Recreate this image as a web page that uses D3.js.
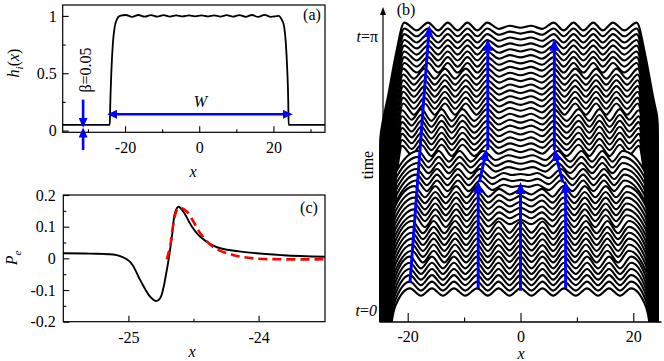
<!DOCTYPE html>
<html lang="en">
<head>
<meta charset="utf-8">
<title>Plateau ripples</title>
<script src="https://cdn.jsdelivr.net/npm/d3@7"></script>
<style>
  body { margin: 0; background: #fff; }
  svg text { font-family: "Liberation Serif", "Times New Roman", serif; font-size: 16px; fill: #000; }
</style>
</head>
<body>
<script>
// ---------------- data ----------------
// (a) initial profile h_i(x)
var hiX = [-36.8, -24.1, -24.0, -23.7, -23.3, -22.8, -22.2, -21.4,
           -19.8, -18.1, -16.4, -14.7, -13.0, -11.3, -9.6, -7.9, -6.2, -4.5, -2.8, -1.1,
           0.6, 2.3, 4.0, 5.7, 7.4, 9.1, 10.8, 12.5, 14.2, 15.9, 17.6, 19.3,
           21.4, 22.2, 22.8, 23.3, 23.7, 24.0, 24.1, 33.9];
var hiY = [0.05, 0.05, 0.2, 0.5, 0.75, 0.9, 0.97, 1.0,
           1.008, 0.992, 1.008, 0.993, 1.007, 0.993, 1.006, 0.994, 1.005, 0.995, 1.004, 0.996,
           1.004, 0.995, 1.005, 0.994, 1.006, 0.993, 1.007, 0.992, 1.008, 0.991, 1.009, 0.992,
           1.0, 0.97, 0.92, 0.78, 0.55, 0.25, 0.05, 0.05];

// (c) P_e near the left edge
var peX = [-25.5, -25.3, -25.09, -24.987, -24.91, -24.833, -24.787, -24.756, -24.705, -24.666,
           -24.64, -24.615, -24.577, -24.512, -24.448, -24.32, -24.064, -23.81, -23.49];
var peY = [0.016, 0.015, 0.010, -0.011, -0.068, -0.121, -0.135, -0.126, -0.037, 0.068,
           0.147, 0.163, 0.147, 0.100, 0.068, 0.035, 0.018, 0.010, 0.005];
var fitX = [-24.705, -24.68, -24.654, -24.628, -24.602, -24.55, -24.5, -24.448, -24.346, -24.19,
            -24.04, -23.81, -23.49];
var fitY = [-0.003, 0.037, 0.110, 0.152, 0.160, 0.147, 0.116, 0.079, 0.035, 0.010,
            0.0, -0.003, -0.003];

// (b) waterfall: 46 time slices from t=0 to t=pi
var sliceCount = 46;
var rippleAmp = [0.013, 0.016, 0.018, 0.019, 0.020, 0.021, 0.021, 0.022, 0.022, 0.022,
                 0.022, 0.022, 0.021, 0.021, 0.021, 0.021, 0.020, 0.020,
                 0.019, 0.019, 0.018, 0.018, 0.019, 0.019,
                 0.020, 0.020, 0.021, 0.021, 0.021, 0.021, 0.021, 0.020, 0.020, 0.020,
                 0.019, 0.019, 0.018, 0.018, 0.017, 0.017, 0.016, 0.016, 0.015, 0.015, 0.014, 0.014];
// first slice of each stage, and which edge shape the stage uses
var stageStart = [0, 6, 12, 18, 21, 24, 31, 38];
var stageWall = [0, 0, 0, 1, 1, 2, 2, 2];
// left edge (x, h); the right edge is its mirror
var wallEarly = [[-26.5, 0], [-24.5, 0], [-24.3, 0.35], [-23.8, 0.7], [-23.0, 0.87], [-22.2, 0.95]];
var wallMid = [[-26.5, 0], [-24.9, 0], [-24.7, 0.4], [-24.0, 0.68], [-23.0, 0.86], [-21.9, 0.95]];
var wallLate = [[-26.5, 0], [-26.0, 0.3], [-25.6, 0.5], [-24.6, 0.64], [-23.4, 0.76], [-22.1, 0.9]];
// left half of the ripple: crests (+) and troughs (-), mirrored about x=0
var ripple0 = [[-19.6, 1], [-17.65, -1], [-15.7, 1], [-13.75, -1], [-11.8, 1], [-9.8, -1], [-7.7, 1], [-5.8, -1], [-3.9, 1], [-1.95, -1], [0, 1]];
var ripple1 = [[-19.2, 1], [-17.3, -1], [-15.4, 1], [-13.5, -1], [-11.6, 1], [-9.65, -1], [-7.7, 1], [-5.8, -1], [-3.9, 0.9], [-1.95, -0.9], [0, 0.9]];
var ripple2 = [[-18.8, 1], [-16.95, -1], [-15.1, 1], [-13.25, -1], [-11.4, 1], [-9.55, -1], [-7.6, 1], [-5.7, -0.9], [-3.8, 0.5], [-1.9, -0.5], [0, 0.3]];
var ripple3 = [[-18.4, 1], [-16.6, -1], [-14.8, 1], [-12.95, -1], [-11.1, 1], [-9.2, -1], [-7.2, 1], [-5.0, -0.8], [-3.0, 0.2], [-1.5, -0.2], [0, 0]];
var ripple4 = [[-18.1, 1], [-16.3, -1], [-14.5, 1], [-12.7, -1], [-10.8, 1], [-8.8, -1], [-6.6, 1], [-4.4, -0.7], [-2.2, 0.2], [0, -0.3]];
var ripple5 = [[-21.0, 0.8], [-19.3, -0.8], [-17.6, 1], [-15.8, -1], [-14.0, 1], [-12.2, -1], [-10.3, 1], [-8.2, -1], [-5.9, 1], [-3.9, -0.6], [-1.9, 0.2], [0, -0.3]];
var ripple6 = [[-20.8, 1], [-18.9, -1], [-17.0, 1], [-15.2, -1], [-13.4, 1], [-11.6, -1], [-9.7, 1], [-7.8, -1], [-5.9, 1], [-3.8, -0.6], [-1.9, 0.2], [0, -0.3]];
var ripple7 = [[-20.6, 1], [-18.4, -1], [-16.4, 1], [-14.6, -1], [-12.9, 1], [-11.15, -1], [-9.4, 1], [-7.65, -1], [-5.9, 1], [-3.8, -0.6], [-1.9, 0.2], [0, -0.3]];
// blue arrows in (b): start (x, t) -> end (x, t)
var arrX0 = [-19.6, -7.5, -7.3, -5.8, 0, 8.0, 7.5, 6.0];
var arrT0 = [0.104, 0.044, 1.30, 1.68, 0.015, 0.044, 1.30, 1.68];
var arrX1 = [-16.2, -7.5, -6.1, -5.8, 0, 8.0, 6.1, 6.0];
var arrT1 = [3.12, 1.28, 1.66, 2.96, 1.266, 1.28, 1.66, 2.96];

// ---------------- drawing ----------------
var w = 664, h = 361;
var svg = d3.select("body").append("svg").attr("width", w).attr("height", h)
  .attr("font-family", "Liberation Serif, serif");
var defs = svg.append("defs");

function marker(id, color, len, wid) {
  defs.append("marker").attr("id", id)
    .attr("viewBox", "0 0 " + len + " " + wid)
    .attr("refX", len - 3).attr("refY", wid / 2)
    .attr("markerWidth", len).attr("markerHeight", wid)
    .attr("markerUnits", "userSpaceOnUse")
    .attr("orient", "auto-start-reverse")
    .append("path").attr("d", "M0,0L" + len + "," + (wid / 2) + "L0," + wid + "Z").attr("fill", color);
}
marker("headB", "#0000ff", 12, 10);
marker("headA", "#0000ff", 10, 9);
marker("headK", "#000", 8, 6);

function styleAxis(g) {
  g.attr("font-family", null).attr("font-size", null);
  g.selectAll(".tick line").attr("stroke", "#000").attr("stroke-width", 1.1);
  g.select(".domain").remove();
}
var label = function(d) { return String(d); };

// ---- panel (a)
var ax = d3.scaleLinear().domain([-36.8, 33.9]).range([62.7, 325]);
var ay = d3.scaleLinear().domain([-0.015, 1.095]).range([132.3, 5]);

var pa = svg.append("g");
pa.append("g").attr("transform", "translate(0,132.3)")
  .call(d3.axisBottom(ax).tickValues([-20, 0, 20]).tickSizeInner(-6).tickSizeOuter(0).tickPadding(9).tickFormat(label))
  .call(styleAxis);
pa.append("g").attr("transform", "translate(0,132.3)")
  .call(d3.axisBottom(ax).tickValues([-30, -10, 10, 30]).tickSizeInner(-3).tickSizeOuter(0).tickFormat(""))
  .call(styleAxis);
pa.append("g").attr("transform", "translate(62.7,0)")
  .call(d3.axisLeft(ay).tickValues([0, 0.5, 1]).tickSizeInner(-6).tickSizeOuter(0).tickPadding(6).tickFormat(label))
  .call(styleAxis);
pa.append("g").attr("transform", "translate(62.7,0)")
  .call(d3.axisLeft(ay).tickValues([0.25, 0.75]).tickSizeInner(-3).tickSizeOuter(0).tickFormat(""))
  .call(styleAxis);

pa.append("path")
  .datum(d3.range(hiX.length))
  .attr("fill", "none").attr("stroke", "#000").attr("stroke-width", 1.8)
  .attr("d", d3.line().x(function(i) { return ax(hiX[i]); }).y(function(i) { return ay(hiY[i]); }).curve(d3.curveMonotoneX));

pa.append("rect").attr("x", 62.7).attr("y", 5).attr("width", 325 - 62.7).attr("height", 132.3 - 5)
  .attr("fill", "none").attr("stroke", "#000").attr("stroke-width", 1.2);

// W and beta markers
pa.append("line").attr("x1", ax(-24.0)).attr("x2", ax(24.4)).attr("y1", ay(0.142)).attr("y2", ay(0.142))
  .attr("stroke", "#0000ff").attr("stroke-width", 2.6)
  .attr("marker-start", "url(#headA)").attr("marker-end", "url(#headA)");
pa.append("line").attr("x1", ax(-31.3)).attr("x2", ax(-31.3)).attr("y1", ay(0.27)).attr("y2", ay(0.05))
  .attr("stroke", "#0000ff").attr("stroke-width", 2.6).attr("marker-end", "url(#headA)");
pa.append("line").attr("x1", ax(-31.3)).attr("x2", ax(-31.3)).attr("y1", ay(-0.17)).attr("y2", ay(0))
  .attr("stroke", "#0000ff").attr("stroke-width", 2.6).attr("marker-end", "url(#headA)");

pa.append("text").attr("x", 200.5).attr("y", 107).attr("text-anchor", "middle").attr("font-style", "italic").text("W");
pa.append("text").attr("transform", "translate(91,70) rotate(-90)").attr("text-anchor", "middle").text("β=0.05");
pa.append("text").attr("x", 312).attr("y", 20).attr("text-anchor", "middle").text("(a)");
pa.append("text").attr("x", 193).attr("y", 176.5).attr("text-anchor", "middle").attr("font-style", "italic").text("x");
var hl = pa.append("text").attr("transform", "translate(19,63) rotate(-90)").attr("text-anchor", "middle");
hl.append("tspan").attr("font-style", "italic").text("h");
hl.append("tspan").attr("font-style", "italic").attr("font-size", "11px").attr("dy", 4).text("i");
hl.append("tspan").attr("dy", -4).text("(");
hl.append("tspan").attr("font-style", "italic").text("x");
hl.append("tspan").text(")");

// ---- panel (c)
var cx = d3.scaleLinear().domain([-25.5, -23.49]).range([63.3, 325]);
var cy = d3.scaleLinear().domain([-0.2, 0.2]).range([321.7, 195]);
var pc = svg.append("g");
pc.append("g").attr("transform", "translate(0,321.7)")
  .call(d3.axisBottom(cx).tickValues([-25, -24]).tickSizeInner(-6).tickSizeOuter(0).tickPadding(9.5).tickFormat(label))
  .call(styleAxis);
pc.append("g").attr("transform", "translate(0,321.7)")
  .call(d3.axisBottom(cx).tickValues([-24.5]).tickSizeInner(-3).tickSizeOuter(0).tickFormat(""))
  .call(styleAxis);
pc.append("g").attr("transform", "translate(63.3,0)")
  .call(d3.axisLeft(cy).tickValues([-0.2, -0.1, 0, 0.1, 0.2]).tickSizeInner(-6).tickSizeOuter(0).tickPadding(7.5).tickFormat(label))
  .call(styleAxis);
pc.append("g").attr("transform", "translate(63.3,0)")
  .call(d3.axisLeft(cy).tickValues([-0.15, -0.05, 0.05, 0.15]).tickSizeInner(-3).tickSizeOuter(0).tickFormat(""))
  .call(styleAxis);

pc.append("path").datum(d3.range(peX.length))
  .attr("fill", "none").attr("stroke", "#000").attr("stroke-width", 1.9)
  .attr("d", d3.line().x(function(i) { return cx(peX[i]); }).y(function(i) { return cy(peY[i]); }).curve(d3.curveCatmullRom.alpha(0.5)));
pc.append("path").datum(d3.range(fitX.length))
  .attr("fill", "none").attr("stroke", "#ff0000").attr("stroke-width", 2.6).attr("stroke-dasharray", "9,5")
  .attr("d", d3.line().x(function(i) { return cx(fitX[i]); }).y(function(i) { return cy(fitY[i]); }).curve(d3.curveCatmullRom.alpha(0.5)));

pc.append("rect").attr("x", 63.3).attr("y", 195).attr("width", 325 - 63.3).attr("height", 321.7 - 195)
  .attr("fill", "none").attr("stroke", "#000").attr("stroke-width", 1.2);
pc.append("text").attr("x", 309).attr("y", 213).attr("text-anchor", "middle").text("(c)");
pc.append("text").attr("x", 192).attr("y", 357).attr("text-anchor", "middle").attr("font-style", "italic").text("x");
var pl = pc.append("text").attr("transform", "translate(17,258) rotate(-90)").attr("text-anchor", "middle");
pl.append("tspan").attr("font-style", "italic").text("P");
pl.append("tspan").attr("font-style", "italic").attr("font-size", "11px").attr("dy", 4).text("e");

// ---- panel (b)
var bx = d3.scaleLinear().domain([-25, 25]).range([379.5, 661.5]);
var tPos = d3.scaleLinear().domain([0, Math.PI]).range([292, 26.5]);   // level of h=1 for each time
var hOff = d3.scaleLinear().domain([0, 1]).range([280, 0]);
var pb = svg.append("g");
defs.append("clipPath").attr("id", "clipB").append("rect")
  .attr("x", 379.5).attr("y", 0).attr("width", 279).attr("height", 322);

var walls = [wallEarly, wallMid, wallLate];
var ripples = [ripple0, ripple1, ripple2, ripple3, ripple4, ripple5, ripple6, ripple7];
function stageOf(k) {
  var s = 0;
  stageStart.forEach(function(v, i) { if (k >= v) s = i; });
  return s;
}
// returns the pieces of a slice: left edge, ripple top, right edge
function sliceParts(k) {
  var s = stageOf(k), a = rippleAmp[k];
  var wl = walls[stageWall[s]];
  var left = wl.map(function(p) { return [p[0], p[1]]; });
  var right = wl.slice().reverse().map(function(p) { return [-p[0], p[1]]; });
  var half = ripples[s];
  var top = [left[left.length - 1]];
  half.forEach(function(p) { top.push([p[0], 1 + a * p[1]]); });
  half.slice(0, -1).reverse().forEach(function(p) { top.push([-p[0], 1 + a * p[1]]); });
  top.push(right[0]);
  return { left: left, top: top, right: right,
           all: left.concat(top.slice(1, -1)).concat(right) };
}

var gw = pb.append("g").attr("clip-path", "url(#clipB)");
var curve = d3.curveMonotoneX;
for (var k = sliceCount - 1; k >= 0; k--) {
  var t = k * Math.PI / (sliceCount - 1);
  var parts = sliceParts(k);
  var yOf = (function(tt) { return function(p) { return tPos(tt) + hOff(p[1]); }; })(t);
  var area = d3.area().x(function(p) { return bx(p[0]); }).y0(340).y1(yOf).curve(curve);
  var edgeFill = k === 0 ? "#fff" : "#000";
  gw.append("path").datum(parts.left).attr("fill", edgeFill).attr("d", area);
  gw.append("path").datum(parts.right).attr("fill", edgeFill).attr("d", area);
  gw.append("path").datum(parts.top).attr("fill", "#fff").attr("d", area);
  gw.append("path").datum(parts.all).attr("fill", "none").attr("stroke", "#000").attr("stroke-width", 2.1)
    .attr("stroke-linejoin", "round")
    .attr("d", d3.line().x(function(p) { return bx(p[0]); }).y(yOf).curve(curve));
}

// x axis of (b)
pb.append("g").attr("transform", "translate(0,322)")
  .call(d3.axisBottom(bx).tickValues([-20, 0, 20]).tickSizeInner(-9).tickSizeOuter(0).tickPadding(8.5).tickFormat(label))
  .call(styleAxis);
pb.append("g").attr("transform", "translate(0,322)")
  .call(d3.axisBottom(bx).tickValues([-10, 10]).tickSizeInner(-4.5).tickSizeOuter(0).tickFormat(""))
  .call(styleAxis);
pb.append("line").attr("x1", 379.5).attr("x2", 661.5).attr("y1", 322).attr("y2", 322)
  .attr("stroke", "#000").attr("stroke-width", 1.3);

// time axis arrow
pb.append("line").attr("x1", 383).attr("x2", 383).attr("y1", 322).attr("y2", 10)
  .attr("stroke", "#000").attr("stroke-width", 1.2).attr("marker-end", "url(#headK)");

// blue arrows
arrX0.forEach(function(x0, i) {
  pb.append("line")
    .attr("x1", bx(x0)).attr("y1", tPos(arrT0[i]))
    .attr("x2", bx(arrX1[i])).attr("y2", tPos(arrT1[i]))
    .attr("stroke", "#0000ff").attr("stroke-width", 3)
    .attr("marker-end", "url(#headB)");
});

pb.append("text").attr("x", 406).attr("y", 15).attr("text-anchor", "middle").text("(b)");
pb.append("text").attr("transform", "translate(373,165) rotate(-90)").attr("text-anchor", "middle").text("time");
pb.append("text").attr("x", 521).attr("y", 359).attr("text-anchor", "middle").attr("font-style", "italic").text("x");
var tp = pb.append("text").attr("x", 378).attr("y", 42).attr("text-anchor", "end");
tp.append("tspan").attr("font-style", "italic").text("t");
tp.append("tspan").text("=π");
var t0 = pb.append("text").attr("x", 377).attr("y", 316).attr("text-anchor", "end");
t0.append("tspan").attr("font-style", "italic").text("t");
t0.append("tspan").text("=");
t0.append("tspan").attr("font-style", "italic").text("0");
</script>
</body>
</html>
